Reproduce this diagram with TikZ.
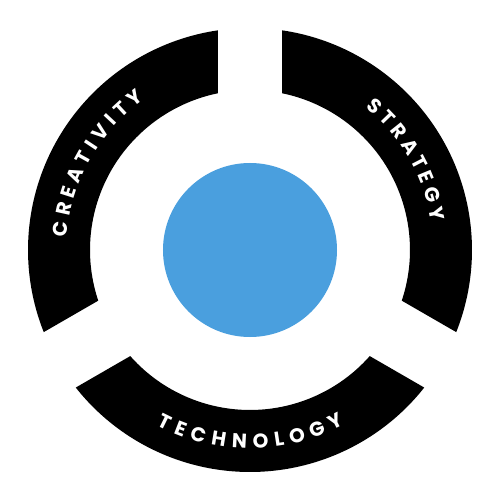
\documentclass[tikz,border=0pt]{standalone}
\usepackage{fontspec}
\newfontfamily\ringfont{Poppins}
\usetikzlibrary{decorations.text}
\definecolor{coreblue}{HTML}{4A9FDE}
\begin{document}
\begin{tikzpicture}[x=1pt,y=1pt]
  \tikzstyle{segment}=[fill=black]
  \tikzstyle{core}=[circle, fill=coreblue, minimum size=174pt, inner sep=0pt]
  \tikzstyle{ringtext}=[decorate, decoration={text along path, text align={fit to path}, text color=white}]

  \useasboundingbox (-250,-250) rectangle (250,250);

  \node[core] (core) at (0,0) {};

  % three ring segments, gaps with parallel cuts
  \foreach \a in {30,150,270}
    \fill[segment] (\a+51.71:222) arc[start angle=\a+51.71, end angle=\a-51.71, radius=222]
      -- (\a-48.46:160) arc[start angle=\a-48.46, end angle=\a+48.46, radius=160] -- cycle;

  % labels along the ring
  \path[ringtext, decoration={text={|\ringfont\bfseries\fontsize{20}{20}\selectfont|CREATIVITY}}]
    (176:183.5) arc[start angle=176, end angle=125, radius=183.5];
  \path[ringtext, decoration={text={|\ringfont\bfseries\fontsize{20}{20}\selectfont|STRATEGY}}]
    (51:183.5) arc[start angle=51, end angle=9, radius=183.5];
  \path[ringtext, decoration={text={|\ringfont\bfseries\fontsize{20}{20}\selectfont|TECHNOLOGY}}]
    (242:198.5) arc[start angle=242, end angle=298.5, radius=198.5];
\end{tikzpicture}
\end{document}
